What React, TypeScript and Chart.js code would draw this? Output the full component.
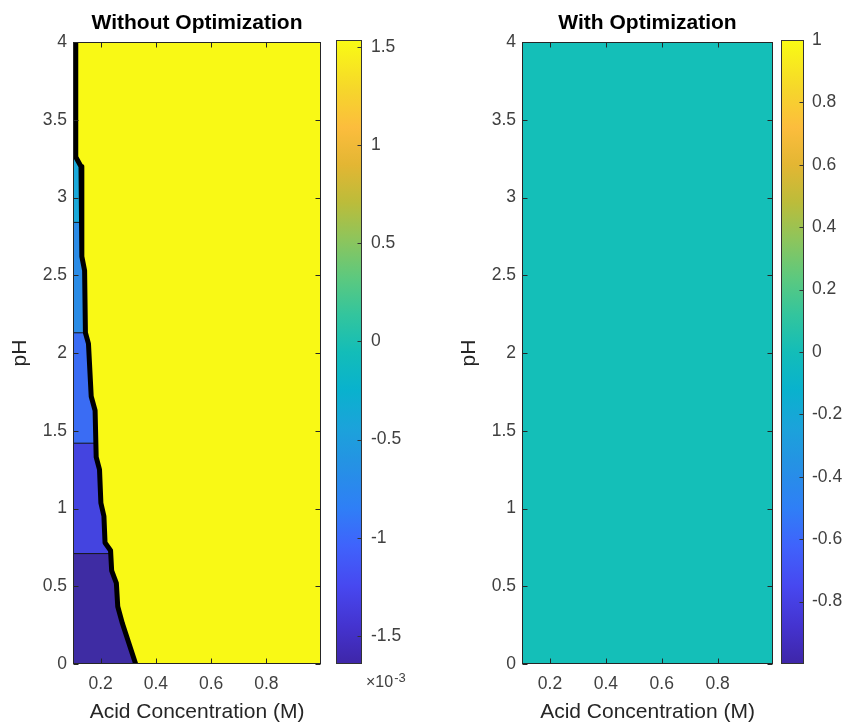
import React, { useEffect, useRef } from 'react';
import { Chart, registerables } from 'chart.js';
Chart.register(...registerables);

const FONT = "'Liberation Sans', Arial, Helvetica, sans-serif";
const TICK_COLOR = '#404040';
const LABEL_COLOR = '#262626';

// Axes
const PH_RANGE = [0, 4];
const PH_TICKS = [0, 0.5, 1, 1.5, 2, 2.5, 3, 3.5, 4];
const PH_LABELS = ['0', '0.5', '1', '1.5', '2', '2.5', '3', '3.5', '4'];
const ACID_RANGE = [0.1, 0.998];
const ACID_TICKS = [0.2, 0.4, 0.6, 0.8];
const ACID_LABELS = ['0.2', '0.4', '0.6', '0.8'];

// Left panel: boundary of the low-value region (thick contour), top to bottom
const BOUNDARY_X = [0.109, 0.110, 0.129, 0.132, 0.142, 0.145, 0.156, 0.166, 0.180, 0.184, 0.196, 0.201, 0.212, 0.216, 0.236, 0.240, 0.257, 0.262, 0.279, 0.327];
const BOUNDARY_Y = [4.0, 3.26, 3.20, 2.62, 2.53, 2.13, 2.06, 1.72, 1.63, 1.33, 1.25, 1.035, 0.95, 0.78, 0.73, 0.60, 0.52, 0.37, 0.26, 0.0];
// Filled contour bands (upper pH limit of each band), lowest first
const BAND_TOPS = [0.71, 1.42, 2.13, 2.84, 3.25];
const BAND_COLORS = ['#3e2ca3', '#4444e0', '#3a6cf4', '#2b8ce6', '#1aa9da'];
const HIGH_COLOR = '#f9f915';
// Right panel: flat value
const FLAT_COLOR = '#14bfb8';

// Colorbars
const CB1_RANGE = [-1.643, 1.536];
const CB1_TICKS = [-1.5, -1, -0.5, 0, 0.5, 1, 1.5];
const CB1_LABELS = ['-1.5', '-1', '-0.5', '0', '0.5', '1', '1.5'];
const CB2_RANGE = [-1, 1];
const CB2_TICKS = [-0.8, -0.6, -0.4, -0.2, 0, 0.2, 0.4, 0.6, 0.8, 1];
const CB2_LABELS = ['-0.8', '-0.6', '-0.4', '-0.2', '0', '0.2', '0.4', '0.6', '0.8', '1'];
const PARULA_STOPS = [0, 0.06, 0.125, 0.19, 0.25, 0.32, 0.38, 0.44, 0.5, 0.56, 0.62, 0.68, 0.74, 0.8, 0.86, 0.92, 1];
const PARULA_COLORS = ['#3e26a8', '#4433cf', '#4748f0', '#3f63fc', '#2f7ff6', '#2592e4', '#1ba3da', '#09b2cd', '#13bdb8', '#33c59d', '#5dc97e', '#8dc55c', '#bcbc3a', '#e3b633', '#fcbd3d', '#f6d62b', '#f9fb14'];

function crossX(level: number): number {
  for (let i = 0; i < BOUNDARY_Y.length - 1; i++) {
    const a = BOUNDARY_Y[i], b = BOUNDARY_Y[i + 1];
    if (a >= level && b <= level) {
      const t = a === b ? 0 : (a - level) / (a - b);
      return BOUNDARY_X[i] + t * (BOUNDARY_X[i + 1] - BOUNDARY_X[i]);
    }
  }
  return BOUNDARY_X[BOUNDARY_X.length - 1];
}

function bandData(top: number) {
  const pts = [{ x: ACID_RANGE[0], y: top }, { x: crossX(top), y: top }];
  BOUNDARY_Y.forEach((y, i) => {
    if (y < top) pts.push({ x: BOUNDARY_X[i], y });
  });
  return pts;
}

const boxPlugin = {
  id: 'box',
  afterDraw(chart: any, _args: any, opts: any) {
    const { ctx, chartArea: a, scales } = chart;
    ctx.save();
    ctx.strokeStyle = opts.color || '#262626';
    ctx.lineWidth = 1;
    const L = Math.round(a.left) + 0.5;
    const R = Math.round(a.right) - 0.5;
    const T = Math.round(a.top) + 0.5;
    const B = Math.round(a.bottom) - 0.5;
    ctx.strokeRect(L, T, R - L, B - T);
    const len = opts.len || 5;
    ctx.beginPath();
    if (opts.x) {
      scales.x.ticks.forEach((t: any) => {
        const p = Math.round(scales.x.getPixelForValue(t.value)) + 0.5;
        ctx.moveTo(p, B); ctx.lineTo(p, B - len);
        ctx.moveTo(p, T); ctx.lineTo(p, T + len);
      });
    }
    if (opts.y || opts.yRight) {
      scales.y.ticks.forEach((t: any) => {
        const p = Math.round(scales.y.getPixelForValue(t.value)) + 0.5;
        if (opts.y) { ctx.moveTo(L, p); ctx.lineTo(L + len, p); }
        ctx.moveTo(R, p); ctx.lineTo(R - len, p);
      });
    }
    ctx.stroke();
    if (opts.exp) {
      ctx.fillStyle = TICK_COLOR;
      ctx.textBaseline = 'alphabetic';
      ctx.textAlign = 'left';
      ctx.font = `16px ${FONT}`;
      const x = a.right + 4;
      const y = a.bottom + 23;
      ctx.fillText(opts.exp.base, x, y);
      const w = ctx.measureText(opts.exp.base).width;
      ctx.font = `13px ${FONT}`;
      ctx.fillText(opts.exp.power, x + w + 1, y - 5);
    }
    ctx.restore();
  },
};

function mainConfig(title: string, datasets: any[], yWidth: number, yTitlePad: number, rightPad: number) {
  return {
    type: 'line',
    data: { datasets },
    options: {
      responsive: false,
      animation: false,
      layout: { padding: { left: 0, right: rightPad, top: 0, bottom: 0 } },
      elements: { point: { radius: 0 } },
      plugins: {
        legend: { display: false },
        tooltip: { enabled: false },
        title: {
          display: true,
          text: title,
          fullSize: false,
          color: '#000',
          font: { family: FONT, size: 21, weight: 'bold' },
          padding: { top: 11, bottom: 5.8 },
        },
        box: { x: true, y: true, color: '#262626', len: 5 },
      },
      scales: {
        x: {
          type: 'linear',
          min: ACID_RANGE[0],
          max: ACID_RANGE[1],
          afterBuildTicks: (s: any) => { s.ticks = ACID_TICKS.map((v) => ({ value: v })); },
          afterFit: (s: any) => { s.height = 61; s.paddingLeft = 0; s.paddingRight = 0; },
          grid: { display: false, drawTicks: false },
          border: { display: false },
          ticks: {
            callback: (_v: any, i: number) => ACID_LABELS[i],
            padding: 10,
            color: TICK_COLOR,
            font: { family: FONT, size: 17.5 },
            maxRotation: 0,
            autoSkip: false,
          },
          title: {
            display: true,
            text: 'Acid Concentration (M)',
            color: LABEL_COLOR,
            font: { family: FONT, size: 21 },
            padding: { top: 0, bottom: 0 },
          },
        },
        y: {
          type: 'linear',
          min: PH_RANGE[0],
          max: PH_RANGE[1],
          afterBuildTicks: (s: any) => { s.ticks = PH_TICKS.map((v) => ({ value: v })); },
          afterFit: (s: any) => { s.width = yWidth; s.paddingTop = 0; s.paddingBottom = 0; },
          grid: { display: false, drawTicks: false },
          border: { display: false },
          ticks: {
            callback: (_v: any, i: number) => PH_LABELS[i],
            padding: 6,
            color: TICK_COLOR,
            font: { family: FONT, size: 17.5 },
            autoSkip: false,
          },
          title: {
            display: true,
            text: 'pH',
            color: LABEL_COLOR,
            font: { family: FONT, size: 21 },
            padding: { top: yTitlePad, bottom: 0 },
          },
        },
      },
    },
    plugins: [boxPlugin],
  };
}

function colorbarConfig(range: number[], ticks: number[], labels: string[], leftPad: number, yWidth: number, labelPad: number, exp: any) {
  return {
    type: 'bar',
    data: {
      labels: [''],
      datasets: [
        {
          data: [[range[0], range[1]]],
          backgroundColor: (ctx: any) => {
            const ca = ctx.chart.chartArea;
            if (!ca) return PARULA_COLORS[0];
            const g = ctx.chart.ctx.createLinearGradient(0, ca.bottom, 0, ca.top);
            PARULA_STOPS.forEach((s, i) => g.addColorStop(s, PARULA_COLORS[i]));
            return g;
          },
          borderWidth: 0,
          barPercentage: 1,
          categoryPercentage: 1,
          inflateAmount: 0,
        },
      ],
    },
    options: {
      responsive: false,
      animation: false,
      layout: { padding: { left: leftPad, right: 0, top: 40, bottom: 61 } },
      plugins: {
        legend: { display: false },
        tooltip: { enabled: false },
        title: { display: false },
        box: { yRight: true, color: '#333', len: 4, exp },
      },
      scales: {
        x: { display: false },
        y: {
          position: 'right',
          min: range[0],
          max: range[1],
          afterBuildTicks: (s: any) => { s.ticks = ticks.map((v) => ({ value: v })); },
          afterFit: (s: any) => { s.width = yWidth; s.paddingTop = 0; s.paddingBottom = 0; },
          grid: { display: false, drawTicks: false },
          border: { display: false },
          ticks: {
            callback: (_v: any, i: number) => labels[i],
            padding: labelPad,
            color: TICK_COLOR,
            font: { family: FONT, size: 17.5 },
            autoSkip: false,
          },
        },
      },
    },
    plugins: [boxPlugin],
  };
}

function leftDatasets() {
  const transparent = 'rgba(0,0,0,0)';
  const ds: any[] = [];
  ds.push({
    data: BOUNDARY_X.map((x, i) => ({ x, y: BOUNDARY_Y[i] })),
    borderColor: '#000',
    borderWidth: 5,
    borderJoinStyle: 'round',
    pointRadius: 0,
    fill: false,
    clip: 0,
  });
  BAND_TOPS.slice(0, BAND_TOPS.length - 1).forEach((lvl) => {
    ds.push({
      data: [{ x: ACID_RANGE[0], y: lvl }, { x: crossX(lvl), y: lvl }],
      borderColor: '#151515',
      borderWidth: 1,
      pointRadius: 0,
      fill: false,
    });
  });
  BAND_TOPS.forEach((top, i) => {
    ds.push({
      data: bandData(top),
      borderColor: transparent,
      borderWidth: 1,
      backgroundColor: BAND_COLORS[i],
      pointRadius: 0,
      fill: 'start',
    });
  });
  ds.push({
    data: [{ x: ACID_RANGE[0], y: PH_RANGE[1] }, { x: ACID_RANGE[1], y: PH_RANGE[1] }],
    borderColor: transparent,
    borderWidth: 1,
    backgroundColor: HIGH_COLOR,
    pointRadius: 0,
    fill: 'start',
  });
  return ds;
}

function rightDatasets() {
  return [
    {
      data: [{ x: ACID_RANGE[0], y: PH_RANGE[1] }, { x: ACID_RANGE[1], y: PH_RANGE[1] }],
      borderColor: 'rgba(0,0,0,0)',
      borderWidth: 1,
      backgroundColor: FLAT_COLOR,
      pointRadius: 0,
      fill: 'start',
    },
  ];
}

function ChartCanvas(props: { make: () => any; left: number; width: number }) {
  const ref = useRef<HTMLCanvasElement | null>(null);
  useEffect(() => {
    if (!ref.current) return;
    const chart = new Chart(ref.current, props.make());
    return () => chart.destroy();
  }, []);
  return (
    <canvas
      ref={ref}
      width={props.width}
      height={725}
      style={{ position: 'absolute', left: props.left, top: 0, width: props.width, height: 725 }}
    />
  );
}

export default function App() {
  return (
    <div style={{ position: 'absolute', left: 0, top: 0, width: 843, height: 725, background: '#fff', overflow: 'hidden' }}>
      <ChartCanvas left={0} width={330} make={() => mainConfig('Without Optimization', leftDatasets(), 73, 8, 9)} />
      <ChartCanvas left={330} width={110} make={() => colorbarConfig(CB1_RANGE, CB1_TICKS, CB1_LABELS, 6, 78, 9, { base: '×10', power: '-3' })} />
      <ChartCanvas left={440} width={338} make={() => mainConfig('With Optimization', rightDatasets(), 82, 17, 5)} />
      <ChartCanvas left={778} width={65} make={() => colorbarConfig(CB2_RANGE, CB2_TICKS, CB2_LABELS, 3, 39, 8, null)} />
    </div>
  );
}
